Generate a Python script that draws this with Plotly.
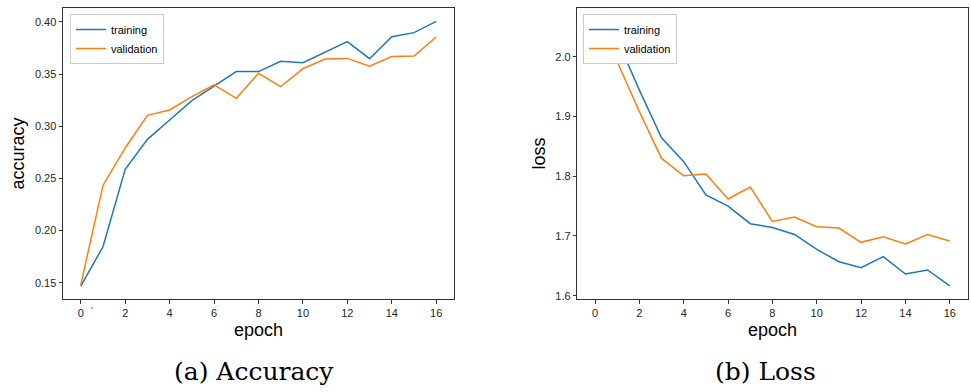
import plotly.graph_objects as go

epochs = list(range(17))

acc_train = [0.1468, 0.1845, 0.2587, 0.2875, 0.3060, 0.3246, 0.3386, 0.3524, 0.3524,
             0.3623, 0.3610, 0.3712, 0.3811, 0.3648, 0.3859, 0.3898, 0.4005]
acc_val = [0.1480, 0.2433, 0.2792, 0.3105, 0.3156, 0.3284, 0.3396, 0.3268, 0.3508,
           0.3380, 0.3552, 0.3645, 0.3651, 0.3575, 0.3668, 0.3674, 0.3856]

loss_train = [2.059, 2.029, 1.944, 1.8644, 1.8243, 1.7685, 1.7500, 1.7205, 1.7143,
              1.7026, 1.6775, 1.6569, 1.6469, 1.6653, 1.6363, 1.6431, 1.6166]
loss_val = [2.054, 1.9916, 1.908, 1.8298, 1.8008, 1.8036, 1.7618, 1.7819, 1.7244,
            1.7317, 1.7155, 1.7133, 1.6893, 1.6988, 1.6866, 1.7022, 1.6916]

x_ticks = [0, 2, 4, 6, 8, 10, 12, 14, 16]
acc_ticks = [0.15, 0.20, 0.25, 0.30, 0.35, 0.40]
loss_ticks = [1.6, 1.7, 1.8, 1.9, 2.0]

BLUE = "#1f77b4"
ORANGE = "#ff7f0e"
AX = "#333333"
TXT = "#262626"
FONT = "Liberation Sans, Arial, sans-serif"

fig = go.Figure()
fig.add_trace(go.Scatter(x=epochs, y=acc_train, mode="lines", name="training",
                         line=dict(color=BLUE, width=1.5), xaxis="x", yaxis="y",
                         legend="legend"))
fig.add_trace(go.Scatter(x=epochs, y=acc_val, mode="lines", name="validation",
                         line=dict(color=ORANGE, width=1.5), xaxis="x", yaxis="y",
                         legend="legend"))
fig.add_trace(go.Scatter(x=epochs, y=loss_train, mode="lines", name="training",
                         line=dict(color=BLUE, width=1.5), xaxis="x2", yaxis="y2",
                         legend="legend2"))
fig.add_trace(go.Scatter(x=epochs, y=loss_val, mode="lines", name="validation",
                         line=dict(color=ORANGE, width=1.5), xaxis="x2", yaxis="y2",
                         legend="legend2"))

W, H = 971, 392
ML, MR, MT, MB = 63, 3, 8, 93
PW = W - ML - MR
PH = H - MT - MB


def px(xp):
    return (xp - ML) / PW


def py(yp):
    return (H - MB - yp) / PH


axis_common = dict(showline=True, linecolor=AX, linewidth=1, mirror=True,
                   ticks="outside", ticklen=3.5, tickcolor=AX, tickwidth=1,
                   showgrid=False, zeroline=False, automargin=False,
                   tickfont=dict(family=FONT, size=11, color=TXT))

legend_common = dict(bgcolor="white", bordercolor="#cccccc", borderwidth=1,
                     font=dict(family=FONT, size=11, color="black"),
                     xanchor="left", yanchor="top", tracegroupgap=0,
                     itemwidth=30)

fig.update_layout(
    width=W, height=H,
    margin=dict(l=ML, r=MR, t=MT, b=MB),
    plot_bgcolor="white", paper_bgcolor="white",
    font=dict(family=FONT, color=TXT),
    xaxis=dict(domain=[0, px(454)], range=[-0.8, 16.8], tickvals=x_ticks,
               title=dict(text="epoch", font=dict(family=FONT, size=18, color="black"),
                          standoff=5),
               anchor="y", **axis_common),
    yaxis=dict(domain=[0, 1], range=[0.1344, 0.4134], tickvals=acc_ticks,
               tickformat=".2f",
               title=dict(text="accuracy", font=dict(family=FONT, size=18, color="black"),
                          standoff=5),
               anchor="x", **axis_common),
    xaxis2=dict(domain=[px(577.3), px(967.5)], range=[-0.8, 16.8], tickvals=x_ticks,
                title=dict(text="epoch", font=dict(family=FONT, size=18, color="black"),
                           standoff=5),
                anchor="y2", **axis_common),
    yaxis2=dict(domain=[0, 1], range=[1.5945, 2.0815], tickvals=loss_ticks,
                tickformat=".1f",
                title=dict(text="loss", font=dict(family=FONT, size=18, color="black"),
                           standoff=5),
                anchor="x2", **axis_common),
    legend=dict(x=px(70), y=py(14), **legend_common),
    legend2=dict(x=px(583), y=py(14), **legend_common),
    annotations=[
        dict(text="(a) Accuracy", xref="paper", yref="paper", x=px(254), y=py(371),
             showarrow=False, xanchor="center", yanchor="middle",
             font=dict(family="DejaVu Serif, serif", size=25, color="black")),
        dict(text="(b) Loss", xref="paper", yref="paper", x=px(765), y=py(371),
             showarrow=False, xanchor="center", yanchor="middle",
             font=dict(family="DejaVu Serif, serif", size=25, color="black")),
        dict(text="'", xref="paper", yref="paper", x=px(92), y=py(310),
             showarrow=False, xanchor="center", yanchor="middle",
             font=dict(family=FONT, size=9, color=TXT)),
    ],
)

fig.write_html("out.html",
               config={"displayModeBar": False},
               post_script="document.body.style.margin='0px';document.body.style.overflow='hidden';")
